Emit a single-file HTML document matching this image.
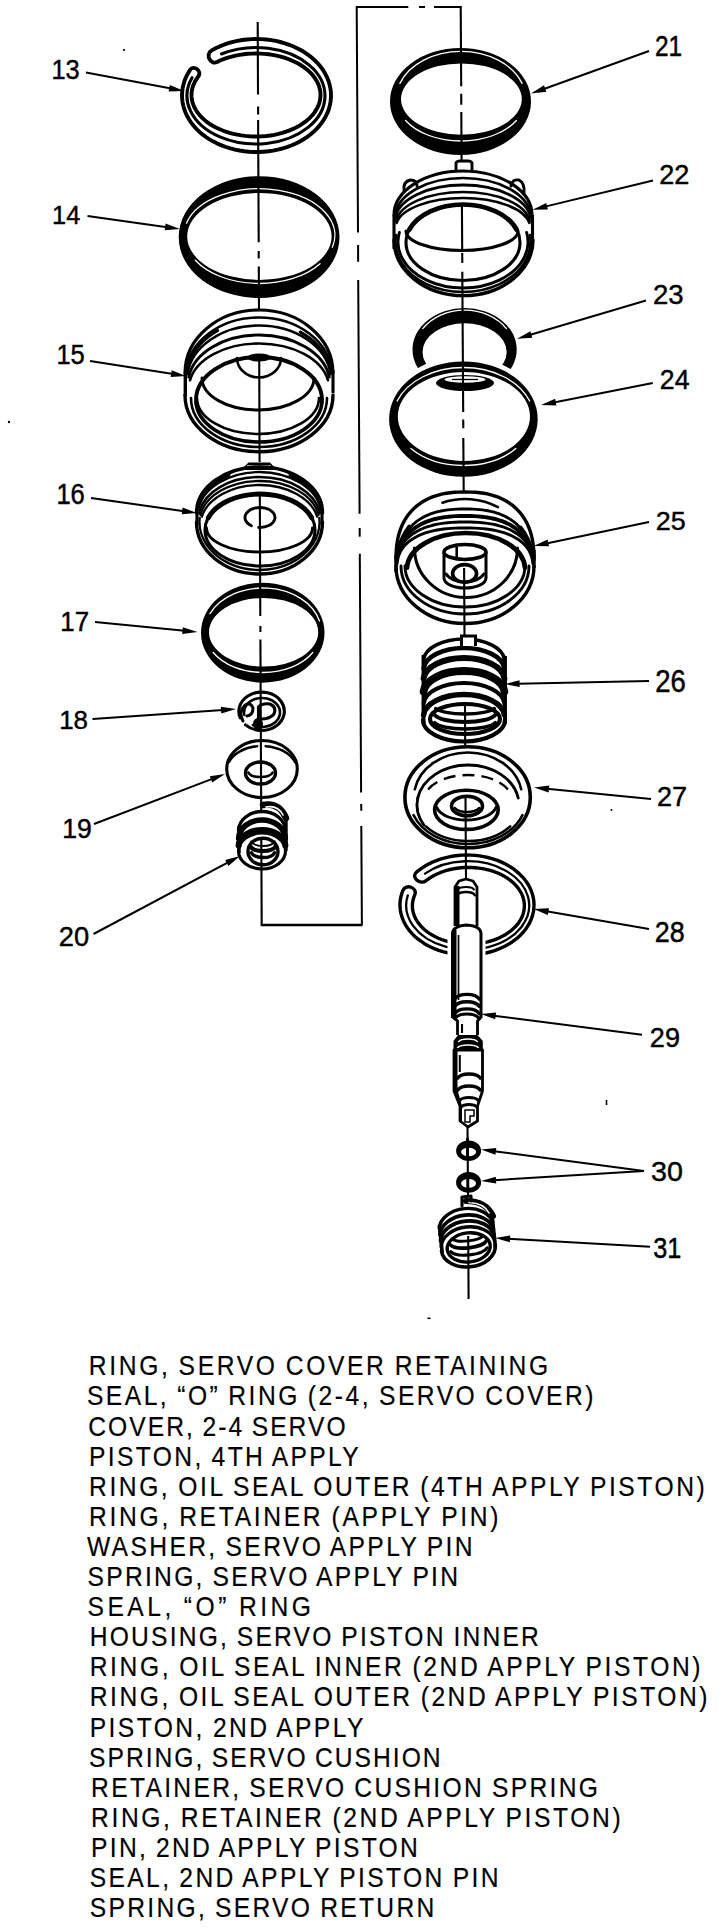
<!DOCTYPE html>
<html><head><meta charset="utf-8"><style>
html,body{margin:0;padding:0;background:#fff;}
svg{display:block;}
text{font-family:"Liberation Sans",sans-serif;fill:#000;}
</style></head><body>
<svg width="720" height="1928" viewBox="0 0 720 1928">
<rect width="720" height="1928" fill="#fff"/>
<path d="M211.7 50.4 L215.6 48.3 L219.7 46.4 L224 44.7 L228.4 43.2 L232.9 41.9 L237.6 40.9 L242.3 40 L247 39.5 L251.8 39.1 L256.6 39 L261.5 39.1 L266.3 39.5 L271 40.1 L275.7 40.9 L280.3 42 L284.9 43.3 L289.3 44.8 L293.5 46.5 L297.6 48.4 L301.6 50.5 L305.3 52.8 L308.9 55.3 L312.2 58 L315.3 60.8 L318.1 63.7 L320.7 66.8 L323 70 L325 73.3 L326.8 76.8 L328.2 80.2 L329.4 83.8 L330.2 87.4 L330.8 91 L331 94.7 L330.9 98.3 L330.5 102 L329.8 105.6 L328.8 109.2 L327.5 112.7 L325.8 116.2 L323.9 119.5 L321.7 122.8 L319.3 125.9 L316.6 128.9 L313.6 131.8 L310.4 134.5 L306.9 137.1 L303.2 139.5 L299.4 141.7 L295.4 143.7 L291.2 145.5 L286.8 147.1 L282.4 148.5 L277.8 149.6 L273.1 150.6 L268.4 151.3 L263.6 151.7 L258.8 152 L254 152 L249.1 151.7 L244.4 151.2 L239.6 150.5 L235 149.6 L230.4 148.4 L225.9 147 L221.6 145.4 L217.4 143.6 L213.4 141.6 L209.5 139.4 L205.9 137 L202.5 134.4 L199.3 131.7 L196.3 128.8 L193.6 125.8 L191.1 122.6 L189 119.3 L187.1 116 L185.5 112.5 L184.2 109 L183.2 105.4 L182.5 101.8 L182.1 98.2 L182 94.5 L182.3 90.8 L182.8 87.2 L183.7 83.6 L184.8 80.1 L186.3 76.6 L188.1 73.2 L190.1 69.8 C193.6 64.6 202 70.9 198.5 76.2 L196.8 78.6 L195.2 81.1 L194 83.7 L192.9 86.3 L192.2 88.9 L191.7 91.6 L191.5 94.3 L191.6 96.9 L191.9 99.6 L192.5 102.3 L193.4 104.9 L194.5 107.5 L195.9 110 L197.5 112.5 L199.4 114.9 L201.5 117.2 L203.9 119.4 L206.4 121.6 L209.2 123.6 L212.2 125.5 L215.4 127.2 L218.7 128.8 L222.2 130.3 L225.8 131.7 L229.5 132.8 L233.4 133.9 L237.4 134.7 L241.4 135.4 L245.5 135.9 L249.6 136.3 L253.8 136.5 L258 136.5 L262.1 136.3 L266.3 136 L270.4 135.5 L274.4 134.8 L278.4 133.9 L282.3 132.9 L286 131.7 L289.6 130.4 L293.1 128.9 L296.5 127.3 L299.6 125.6 L302.6 123.7 L305.4 121.7 L308 119.6 L310.4 117.3 L312.5 115 L314.4 112.6 L316 110.2 L317.4 107.6 L318.6 105.1 L319.5 102.4 L320.1 99.8 L320.4 97.1 L320.5 94.4 L320.3 91.7 L319.8 89 L319.1 86.4 L318.1 83.8 L316.8 81.2 L315.3 78.7 L313.6 76.3 L311.6 73.9 L309.3 71.7 L306.9 69.5 L304.2 67.4 L301.3 65.5 L298.3 63.6 L295 62 L291.6 60.4 L288.1 59 L284.4 57.7 L280.6 56.6 L276.6 55.7 L272.6 54.9 L268.6 54.3 L264.5 53.9 L260.3 53.6 L256.1 53.5 L252 53.6 L247.8 53.8 L243.7 54.3 L239.6 54.9 L235.6 55.6 L231.7 56.6 L227.9 57.7 L224.2 58.9 L220.6 60.3 L217.2 61.9 C210.5 65.6 205 54.2 211.7 50.4 Z" fill="none" stroke="#000" stroke-width="3.9" stroke-linejoin="round"/>
<path d="M293.75 46.57A74.50 56.50 0 0 1 331.00 95.50A74.50 56.50 0 0 1 293.75 144.43" fill="none" stroke="#000" stroke-width="1.8" stroke-linecap="round"/>
<path d="M221.50 53.96A69.00 48.25 0 0 1 309.24 65.06A69.00 48.25 0 0 1 308.07 127.40A69.00 48.25 0 0 1 219.95 136.89A69.00 48.25 0 0 1 192.02 77.68" fill="none" stroke="#000" stroke-width="3.1" stroke-linecap="round"/>
<path fill-rule="evenodd" fill="#000" d="M339.50 237.10A80.40 60.90 0 0 1 259.10 298.00A80.40 60.90 0 0 1 178.70 237.10A80.40 60.90 0 0 1 259.10 176.20A80.40 60.90 0 0 1 339.50 237.10Z M331.60 236.40A72.20 43.50 0 0 1 259.40 279.90A72.20 43.50 0 0 1 187.20 236.40A72.20 43.50 0 0 1 259.40 192.90A72.20 43.50 0 0 1 331.60 236.40Z"/>
<path d="M186.47 223.16A75.50 46.50 0 0 1 278.94 190.28A75.50 46.50 0 0 1 332.33 247.24" fill="none" stroke="#fff" stroke-width="1.3" stroke-linecap="round"/>
<path d="M320.02 263.67A74.00 46.50 0 0 1 256.17 283.46A74.00 46.50 0 0 1 195.31 260.25" fill="none" stroke="#fff" stroke-width="1.3" stroke-linecap="round"/>
<path d="M185.00 373.00A74.00 63.00 0 0 1 259.00 310.00A74.00 63.00 0 0 1 333.00 373.00" fill="none" stroke="#000" stroke-width="3.1" stroke-linecap="round"/>
<path d="M186.10 372.94A73.00 58.50 0 0 1 259.00 317.50A73.00 58.50 0 0 1 331.90 372.94" fill="none" stroke="#000" stroke-width="2.6" stroke-linecap="round"/>
<path d="M187.39 374.30A72.00 54.50 0 0 1 259.00 325.50A72.00 54.50 0 0 1 330.61 374.30" fill="none" stroke="#000" stroke-width="2.6" stroke-linecap="round"/>
<path d="M188.69 377.18A71.00 49.00 0 0 1 259.00 335.00A71.00 49.00 0 0 1 329.31 377.18" fill="none" stroke="#000" stroke-width="2.9" stroke-linecap="round"/>
<path d="M190.06 380.27A70.00 44.50 0 0 1 259.00 343.50A70.00 44.50 0 0 1 327.94 380.27" fill="none" stroke="#000" stroke-width="2.6" stroke-linecap="round"/>
<path d="M188.97 362.99A72.50 58.00 0 0 1 217.42 330.49" fill="none" stroke="#000" stroke-width="3.4" stroke-linecap="round"/>
<path d="M300.30 332.13A72.00 56.00 0 0 1 328.55 363.51" fill="none" stroke="#000" stroke-width="3.1" stroke-linecap="round"/>
<line x1="185.3" y1="372" x2="185.3" y2="396" stroke="#000" stroke-width="3.4" stroke-linecap="butt"/>
<line x1="333" y1="370" x2="333" y2="393" stroke="#000" stroke-width="3.1" stroke-linecap="butt"/>
<path d="M333.00 395.00A74.00 56.70 0 0 1 259.00 451.70A74.00 56.70 0 0 1 185.00 395.00" fill="none" stroke="#000" stroke-width="3.4" stroke-linecap="round"/>
<path d="M327.00 398.00A68.00 49.00 0 0 1 259.00 447.00A68.00 49.00 0 0 1 191.00 398.00" fill="none" stroke="#000" stroke-width="2.6" stroke-linecap="round"/>
<path d="M322.00 400.00A63.00 42.00 0 0 1 259.00 442.00A63.00 42.00 0 0 1 196.00 400.00" fill="none" stroke="#000" stroke-width="3.6" stroke-linecap="round"/>
<path d="M196.04 398.50A63.00 43.00 0 0 1 259.00 357.00A63.00 43.00 0 0 1 321.96 398.50" fill="none" stroke="#000" stroke-width="3.9" stroke-linecap="round"/>
<line x1="196" y1="400" x2="196" y2="405" stroke="#000" stroke-width="3.1" stroke-linecap="butt"/>
<line x1="322" y1="398" x2="322" y2="404" stroke="#000" stroke-width="3.1" stroke-linecap="butt"/>
<path d="M314.00 378.00A56.00 32.00 0 0 1 258.00 410.00A56.00 32.00 0 0 1 202.00 378.00" fill="none" stroke="#000" stroke-width="2.9" stroke-linecap="round"/>
<path d="M319.00 398.00A61.00 36.00 0 0 1 258.00 434.00A61.00 36.00 0 0 1 197.00 398.00" fill="none" stroke="#000" stroke-width="2.6" stroke-linecap="round"/>
<path d="M281.00 358.00A22.00 19.50 0 0 1 259.00 377.50A22.00 19.50 0 0 1 237.00 358.00" fill="none" stroke="#000" stroke-width="2.6" stroke-linecap="round"/>
<path d="M249.00 358.00A10.00 3.00 0 0 1 259.00 355.00A10.00 3.00 0 0 1 269.00 358.00" fill="none" stroke="#000" stroke-width="2.9" stroke-linecap="round"/>
<ellipse cx="259" cy="359" rx="10" ry="2.5" fill="#000"/>
<path d="M241 470 L248.5 462.5 L270 462.5 L277 470 Z" fill="#000"/>
<line x1="247" y1="466" x2="271" y2="466" stroke="#fff" stroke-width="1.3" stroke-linecap="butt"/>
<path d="M196.50 513.00A63.00 46.00 0 0 1 259.50 467.00A63.00 46.00 0 0 1 322.50 513.00" fill="none" stroke="#000" stroke-width="3.4" stroke-linecap="round"/>
<path d="M197.95 505.36A62.50 44.00 0 0 1 228.25 474.89" fill="none" stroke="#000" stroke-width="4.5" stroke-linecap="round"/>
<path d="M290.75 474.89A62.50 44.00 0 0 1 321.05 505.36" fill="none" stroke="#000" stroke-width="4.5" stroke-linecap="round"/>
<path d="M198.10 509.88A62.00 44.00 0 0 1 259.50 472.00A62.00 44.00 0 0 1 320.90 509.88" fill="none" stroke="#000" stroke-width="2.3" stroke-linecap="round"/>
<path d="M199.09 513.15A61.00 42.00 0 0 1 259.50 477.00A61.00 42.00 0 0 1 319.91 513.15" fill="none" stroke="#000" stroke-width="2.6" stroke-linecap="round"/>
<path d="M200.41 514.88A60.00 41.00 0 0 1 259.50 481.00A60.00 41.00 0 0 1 318.59 514.88" fill="none" stroke="#000" stroke-width="2.3" stroke-linecap="round"/>
<path d="M201.79 516.68A59.00 40.00 0 0 1 259.50 485.00A59.00 40.00 0 0 1 317.21 516.68" fill="none" stroke="#000" stroke-width="2.3" stroke-linecap="round"/>
<path d="M315.00 530.00A55.00 36.00 0 0 1 260.00 566.00A55.00 36.00 0 0 1 205.00 530.00A55.00 36.00 0 0 1 260.00 494.00A55.00 36.00 0 0 1 315.00 530.00Z" fill="none" stroke="#000" stroke-width="3.1" stroke-linecap="round"/>
<path d="M208.32 517.69A55.00 36.00 0 0 1 260.00 494.00A55.00 36.00 0 0 1 311.68 517.69" fill="none" stroke="#000" stroke-width="4.9" stroke-linecap="round"/>
<line x1="197" y1="513" x2="197" y2="525" stroke="#000" stroke-width="3.1" stroke-linecap="butt"/>
<line x1="322" y1="511" x2="322" y2="525" stroke="#000" stroke-width="3.1" stroke-linecap="butt"/>
<path d="M322.50 522.00A63.00 52.00 0 0 1 259.50 574.00A63.00 52.00 0 0 1 196.50 522.00" fill="none" stroke="#000" stroke-width="3.4" stroke-linecap="round"/>
<path d="M319.27 517.82A60.00 48.00 0 0 1 291.00 562.85A60.00 48.00 0 0 1 228.00 562.85A60.00 48.00 0 0 1 199.73 517.82" fill="none" stroke="#000" stroke-width="2.3" stroke-linecap="round"/>
<path d="M312.50 528.00A53.00 24.00 0 0 1 259.50 552.00A53.00 24.00 0 0 1 206.50 528.00" fill="none" stroke="#000" stroke-width="2.9" stroke-linecap="round"/>
<path d="M251.40 525.69A15.00 10.00 0 0 1 246.69 512.88A15.00 10.00 0 0 1 265.13 508.10A15.00 10.00 0 0 1 274.64 519.66A15.00 10.00 0 0 1 258.69 527.46" fill="none" stroke="#000" stroke-width="2.9" stroke-linecap="round"/>
<path fill-rule="evenodd" fill="#000" d="M324.50 632.65A61.75 50.00 0 0 1 262.75 682.65A61.75 50.00 0 0 1 201.00 632.65A61.75 50.00 0 0 1 262.75 582.65A61.75 50.00 0 0 1 324.50 632.65Z M318.20 632.20A54.60 34.30 0 0 1 263.60 666.50A54.60 34.30 0 0 1 209.00 632.20A54.60 34.30 0 0 1 263.60 597.90A54.60 34.30 0 0 1 318.20 632.20Z"/>
<path d="M209.98 613.69A58.50 44.50 0 0 1 268.10 588.17A58.50 44.50 0 0 1 319.51 620.98" fill="none" stroke="#fff" stroke-width="1.3" stroke-linecap="round"/>
<path d="M312.80 652.50A57.50 40.00 0 0 1 263.00 672.50A57.50 40.00 0 0 1 213.20 652.50" fill="none" stroke="#fff" stroke-width="1.3" stroke-linecap="round"/>
<path d="M240.22 717.85A22.75 19.15 0 0 1 251.54 694.12A22.75 19.15 0 0 1 280.79 701.01A22.75 19.15 0 0 1 275.84 726.23A22.75 19.15 0 0 1 245.51 724.84" fill="none" stroke="#000" stroke-width="3.1" stroke-linecap="round"/>
<path d="M244.27 715.02A18.00 14.50 0 0 1 255.11 699.10A18.00 14.50 0 0 1 276.74 704.18A18.00 14.50 0 0 1 275.27 722.30A18.00 14.50 0 0 1 253.00 725.06" fill="none" stroke="#000" stroke-width="2.6" stroke-linecap="round"/>
<path d="M243 721 Q238 712 245 705 Q251 702 253 708 Q253 715 247 716" fill="none" stroke="#000" stroke-width="3" stroke-linejoin="round" stroke-linecap="round"/>
<path d="M258.5 724 L258.5 707 Q262 703 270 704 Q277 707 274 714 Q270 719 261 719" fill="none" stroke="#000" stroke-width="3.1" stroke-linejoin="round" stroke-linecap="round"/>
<ellipse cx="258" cy="724" rx="5" ry="6" fill="#000"/>
<ellipse cx="262" cy="769" rx="35.3" ry="28.5" fill="none" stroke="#000" stroke-width="3.1"/>
<path d="M229.11 761.79A35.00 24.00 0 0 1 257.13 746.23" fill="none" stroke="#000" stroke-width="2.5" stroke-linecap="round"/>
<path d="M265.66 746.13A35.00 24.00 0 0 1 295.29 762.58" fill="none" stroke="#000" stroke-width="2.5" stroke-linecap="round"/>
<ellipse cx="260.5" cy="773" rx="15" ry="11" fill="none" stroke="#000" stroke-width="3.4"/>
<path d="M272.57 772.55A12.50 6.00 0 0 1 260.50 777.00A12.50 6.00 0 0 1 248.43 772.55" fill="none" stroke="#000" stroke-width="2.6" stroke-linecap="round"/>
<path d="M285.50 851.00A23.50 18.00 0 0 1 262.00 869.00A23.50 18.00 0 0 1 238.50 851.00A23.50 18.00 0 0 1 262.00 833.00A23.50 18.00 0 0 1 285.50 851.00Z" fill="none" stroke="#000" stroke-width="3.1" stroke-linecap="round"/>
<path d="M238.51 830.32A23.50 19.50 0 0 1 262.00 811.50A23.50 19.50 0 0 1 285.49 830.32" fill="none" stroke="#000" stroke-width="3.4" stroke-linecap="round"/>
<path d="M238.71 838.34A23.30 19.00 0 0 1 262.00 820.00A23.30 19.00 0 0 1 285.29 838.34" fill="none" stroke="#000" stroke-width="5.7" stroke-linecap="round"/>
<path d="M238.71 845.44A23.30 16.00 0 0 1 262.00 830.00A23.30 16.00 0 0 1 285.29 845.44" fill="none" stroke="#000" stroke-width="6.2" stroke-linecap="round"/>
<line x1="239" y1="826" x2="239" y2="853" stroke="#000" stroke-width="3.4" stroke-linecap="butt"/>
<line x1="286" y1="820" x2="286" y2="851" stroke="#000" stroke-width="3.4" stroke-linecap="butt"/>
<ellipse cx="263" cy="851.5" rx="15" ry="13.3" fill="none" stroke="#000" stroke-width="3.4"/>
<path d="M274.59 841.55A12.00 6.00 0 0 1 263.00 846.00A12.00 6.00 0 0 1 251.41 841.55" fill="none" stroke="#000" stroke-width="2.1" stroke-linecap="round"/>
<path d="M275.56 846.55A13.00 6.00 0 0 1 263.00 851.00A13.00 6.00 0 0 1 250.44 846.55" fill="none" stroke="#000" stroke-width="4.2" stroke-linecap="round"/>
<path d="M274.59 852.68A12.00 6.50 0 0 1 263.00 857.50A12.00 6.50 0 0 1 251.41 852.68" fill="none" stroke="#000" stroke-width="3.4" stroke-linecap="round"/>
<path d="M263 805 Q279 802 286 818" fill="none" stroke="#000" stroke-width="6.5" stroke-linecap="round"/>
<path d="M266 807 Q278 805 283 815" fill="none" stroke="#fff" stroke-width="1.6" stroke-linecap="round"/>
<path fill-rule="evenodd" fill="#000" d="M531.00 101.50A70.50 53.50 0 0 1 460.50 155.00A70.50 53.50 0 0 1 390.00 101.50A70.50 53.50 0 0 1 460.50 48.00A70.50 53.50 0 0 1 531.00 101.50Z M521.80 99.10A60.40 35.70 0 0 1 461.40 134.80A60.40 35.70 0 0 1 401.00 99.10A60.40 35.70 0 0 1 461.40 63.40A60.40 35.70 0 0 1 521.80 99.10Z"/>
<path d="M399.92 83.38A65.00 48.60 0 0 1 461.00 51.40A65.00 48.60 0 0 1 522.08 83.38" fill="none" stroke="#fff" stroke-width="1.3" stroke-linecap="round"/>
<path d="M516.43 120.50A64.00 41.00 0 0 1 461.00 141.00A64.00 41.00 0 0 1 405.57 120.50" fill="none" stroke="#fff" stroke-width="1.3" stroke-linecap="round"/>
<path d="M456 170 L456 163 Q457 161 460 161 L468 161 Q471 161 472 163 L472 170" fill="none" stroke="#000" stroke-width="2.9" stroke-linejoin="round" stroke-linecap="round"/>
<path d="M394.00 215.00A69.00 44.00 0 0 1 463.00 171.00A69.00 44.00 0 0 1 532.00 215.00" fill="none" stroke="#000" stroke-width="3.1" stroke-linecap="round"/>
<path d="M395.26 214.51A68.00 40.00 0 0 1 463.00 178.00A68.00 40.00 0 0 1 530.74 214.51" fill="none" stroke="#000" stroke-width="2.6" stroke-linecap="round"/>
<path d="M395.26 217.86A68.00 36.00 0 0 1 463.00 185.00A68.00 36.00 0 0 1 530.74 217.86" fill="none" stroke="#000" stroke-width="2.9" stroke-linecap="round"/>
<path d="M396.25 221.21A67.00 32.00 0 0 1 463.00 192.00A67.00 32.00 0 0 1 529.75 221.21" fill="none" stroke="#000" stroke-width="2.6" stroke-linecap="round"/>
<path d="M396.65 222.96A67.00 29.00 0 0 1 463.00 198.00A67.00 29.00 0 0 1 529.35 222.96" fill="none" stroke="#000" stroke-width="2.6" stroke-linecap="round"/>
<path d="M404 190 Q403 182 410 180 Q417 180 417 186" fill="none" stroke="#000" stroke-width="2.9" stroke-linejoin="round" stroke-linecap="round"/>
<path d="M511 186 Q512 179 519 180 Q525 183 524 193" fill="none" stroke="#000" stroke-width="2.9" stroke-linejoin="round" stroke-linecap="round"/>
<line x1="394" y1="215" x2="394" y2="249" stroke="#000" stroke-width="3.1" stroke-linecap="butt"/>
<line x1="532.5" y1="215" x2="532.5" y2="240" stroke="#000" stroke-width="3.1" stroke-linecap="butt"/>
<path d="M533.00 240.00A69.50 55.60 0 0 1 463.50 295.60A69.50 55.60 0 0 1 394.00 240.00" fill="none" stroke="#000" stroke-width="3.4" stroke-linecap="round"/>
<path d="M529.84 235.04A67.50 50.00 0 0 1 499.43 284.09A67.50 50.00 0 0 1 426.57 284.09A67.50 50.00 0 0 1 396.16 235.04" fill="none" stroke="#000" stroke-width="2.6" stroke-linecap="round"/>
<path d="M526.58 232.44A65.00 46.00 0 0 1 499.35 280.14A65.00 46.00 0 0 1 426.65 280.14A65.00 46.00 0 0 1 399.42 232.44" fill="none" stroke="#000" stroke-width="2.9" stroke-linecap="round"/>
<path d="M520.00 242.50A57.00 38.00 0 0 1 463.00 280.50A57.00 38.00 0 0 1 406.00 242.50A57.00 38.00 0 0 1 463.00 204.50A57.00 38.00 0 0 1 520.00 242.50Z" fill="none" stroke="#000" stroke-width="3.1" stroke-linecap="round"/>
<path d="M409.44 229.50A57.00 38.00 0 0 1 463.00 204.50A57.00 38.00 0 0 1 516.56 229.50" fill="none" stroke="#000" stroke-width="4.7" stroke-linecap="round"/>
<path d="M518.00 231.00A56.00 19.50 0 0 1 462.00 250.50A56.00 19.50 0 0 1 406.00 231.00" fill="none" stroke="#000" stroke-width="3.1" stroke-linecap="round"/>
<path fill-rule="evenodd" fill="#000" d="M516.70 349.50A52.10 41.50 0 0 1 464.60 391.00A52.10 41.50 0 0 1 412.50 349.50A52.10 41.50 0 0 1 464.60 308.00A52.10 41.50 0 0 1 516.70 349.50Z M506.70 352.00A42.10 28.70 0 0 1 464.60 380.70A42.10 28.70 0 0 1 422.50 352.00A42.10 28.70 0 0 1 464.60 323.30A42.10 28.70 0 0 1 506.70 352.00Z"/>
<path d="M422.79 328.67A49.30 39.30 0 0 1 464.60 310.20A49.30 39.30 0 0 1 506.41 328.67" fill="none" stroke="#fff" stroke-width="1.3" stroke-linecap="round"/>
<ellipse cx="463.4" cy="419.1" rx="79" ry="62.5" fill="#fff"/>
<path fill-rule="evenodd" fill="#000" d="M537.70 419.10A74.30 57.70 0 0 1 463.40 476.80A74.30 57.70 0 0 1 389.10 419.10A74.30 57.70 0 0 1 463.40 361.40A74.30 57.70 0 0 1 537.70 419.10Z M530.00 416.50A66.10 44.50 0 0 1 463.90 461.00A66.10 44.50 0 0 1 397.80 416.50A66.10 44.50 0 0 1 463.90 372.00A66.10 44.50 0 0 1 530.00 416.50Z"/>
<path d="M397.15 401.06A70.50 51.00 0 0 1 463.40 367.50A70.50 51.00 0 0 1 529.65 401.06" fill="none" stroke="#fff" stroke-width="1.3" stroke-linecap="round"/>
<path d="M515.87 448.53A68.50 47.50 0 0 1 463.40 465.50A68.50 47.50 0 0 1 410.93 448.53" fill="none" stroke="#fff" stroke-width="1.3" stroke-linecap="round"/>
<ellipse cx="465" cy="383" rx="29" ry="8" fill="#000"/>
<ellipse cx="465" cy="379.5" rx="20.5" ry="3.3" fill="#fff"/>
<line x1="452" y1="379.5" x2="478" y2="379.5" stroke="#000" stroke-width="1.3" stroke-linecap="butt"/>
<path d="M396.00 560.00 L396.08 554.18 L396.32 549.64 L396.71 545.51 L397.26 541.63 L397.96 537.95 L398.83 534.44 L399.84 531.09 L401.01 527.87 L402.33 524.79 L403.79 521.84 L405.41 519.02 L407.17 516.33 L409.08 513.77 L411.12 511.35 L413.31 509.06 L415.63 506.90 L418.09 504.89 L420.69 503.01 L423.41 501.27 L426.28 499.68 L429.27 498.23 L432.40 496.94 L435.66 495.79 L439.07 494.78 L442.63 493.94 L446.36 493.24 L450.30 492.70 L454.49 492.31 L459.10 492.08 L465.00 492.00 L470.90 492.08 L475.51 492.31 L479.70 492.70 L483.64 493.24 L487.37 493.94 L490.93 494.78 L494.34 495.79 L497.60 496.94 L500.73 498.23 L503.72 499.68 L506.59 501.27 L509.31 503.01 L511.91 504.89 L514.37 506.90 L516.69 509.06 L518.88 511.35 L520.92 513.77 L522.83 516.33 L524.59 519.02 L526.21 521.84 L527.67 524.79 L528.99 527.87 L530.16 531.09 L531.17 534.44 L532.04 537.95 L532.74 541.63 L533.29 545.51 L533.68 549.64 L533.92 554.18 L534.00 560.00" fill="none" stroke="#000" stroke-width="3.4" stroke-linecap="round" stroke-linejoin="round"/>
<path d="M442.43 502.68A66.00 61.00 0 0 1 498.00 507.17" fill="none" stroke="#000" stroke-width="2.6" stroke-linecap="round"/>
<path d="M402.33 540.32 L403.15 538.34 L404.06 536.41 L405.05 534.55 L406.13 532.76 L407.30 531.02 L408.55 529.35 L409.88 527.74 L411.30 526.19 L412.80 524.70 L414.38 523.27 L416.04 521.91 L417.78 520.62 L419.60 519.38 L421.49 518.22 L423.47 517.12 L425.52 516.08 L427.65 515.12 L429.85 514.22 L432.14 513.40 L434.50 512.64 L436.94 511.95 L439.46 511.33 L442.07 510.79 L444.77 510.32 L447.58 509.91 L450.51 509.59 L453.58 509.33 L456.84 509.15 L460.42 509.04 L465.00 509.00 L469.58 509.04 L473.16 509.15 L476.42 509.33 L479.49 509.59 L482.42 509.91 L485.23 510.32 L487.93 510.79 L490.54 511.33 L493.06 511.95 L495.50 512.64 L497.86 513.40 L500.15 514.22 L502.35 515.12 L504.48 516.08 L506.53 517.12 L508.51 518.22 L510.40 519.38 L512.22 520.62 L513.96 521.91 L515.62 523.27 L517.20 524.70 L518.70 526.19 L520.12 527.74 L521.45 529.35 L522.70 531.02 L523.87 532.76 L524.95 534.55 L525.94 536.41 L526.85 538.34 L527.67 540.32" fill="none" stroke="#000" stroke-width="2.9" stroke-linecap="round" stroke-linejoin="round"/>
<path d="M398.85 552.84 L399.36 550.45 L399.99 548.16 L400.74 545.96 L401.61 543.85 L402.60 541.81 L403.70 539.86 L404.92 537.97 L406.25 536.17 L407.69 534.43 L409.25 532.76 L410.91 531.17 L412.68 529.66 L414.56 528.22 L416.55 526.85 L418.64 525.56 L420.84 524.35 L423.13 523.21 L425.53 522.16 L428.03 521.19 L430.63 520.29 L433.34 519.48 L436.15 518.76 L439.07 518.11 L442.11 517.55 L445.27 517.08 L448.57 516.69 L452.05 516.39 L455.75 516.17 L459.80 516.04 L465.00 516.00 L470.20 516.04 L474.25 516.17 L477.95 516.39 L481.43 516.69 L484.73 517.08 L487.89 517.55 L490.93 518.11 L493.85 518.76 L496.66 519.48 L499.37 520.29 L501.97 521.19 L504.47 522.16 L506.87 523.21 L509.16 524.35 L511.36 525.56 L513.45 526.85 L515.44 528.22 L517.32 529.66 L519.09 531.17 L520.75 532.76 L522.31 534.43 L523.75 536.17 L525.08 537.97 L526.30 539.86 L527.40 541.81 L528.39 543.85 L529.26 545.96 L530.01 548.16 L530.64 550.45 L531.15 552.84" fill="none" stroke="#000" stroke-width="3.9" stroke-linecap="round" stroke-linejoin="round"/>
<path d="M397.31 559.30 L397.67 556.80 L398.16 554.44 L398.79 552.20 L399.54 550.06 L400.44 548.00 L401.46 546.03 L402.61 544.13 L403.89 542.31 L405.30 540.57 L406.84 538.89 L408.50 537.29 L410.28 535.77 L412.18 534.32 L414.21 532.94 L416.35 531.64 L418.61 530.42 L420.98 529.28 L423.47 528.22 L426.07 527.24 L428.79 526.34 L431.62 525.52 L434.57 524.78 L437.63 524.14 L440.83 523.57 L444.16 523.09 L447.64 522.70 L451.31 522.39 L455.22 522.18 L459.51 522.04 L465.00 522.00 L470.49 522.04 L474.78 522.18 L478.69 522.39 L482.36 522.70 L485.84 523.09 L489.17 523.57 L492.37 524.14 L495.43 524.78 L498.38 525.52 L501.21 526.34 L503.93 527.24 L506.53 528.22 L509.02 529.28 L511.39 530.42 L513.65 531.64 L515.79 532.94 L517.82 534.32 L519.72 535.77 L521.50 537.29 L523.16 538.89 L524.70 540.57 L526.11 542.31 L527.39 544.13 L528.54 546.03 L529.56 548.00 L530.46 550.06 L531.21 552.20 L531.84 554.44 L532.33 556.80 L532.69 559.30" fill="none" stroke="#000" stroke-width="2.9" stroke-linecap="round" stroke-linejoin="round"/>
<path d="M397.14 563.65 L397.41 561.19 L397.82 558.91 L398.37 556.75 L399.06 554.70 L399.89 552.74 L400.86 550.86 L401.96 549.06 L403.20 547.33 L404.58 545.66 L406.09 544.07 L407.73 542.55 L409.50 541.10 L411.40 539.72 L413.42 538.41 L415.57 537.18 L417.84 536.02 L420.23 534.93 L422.75 533.92 L425.38 532.99 L428.13 532.13 L431.00 531.35 L434.00 530.65 L437.11 530.03 L440.36 529.50 L443.76 529.04 L447.30 528.67 L451.04 528.38 L455.03 528.17 L459.40 528.04 L465.00 528.00 L470.60 528.04 L474.97 528.17 L478.96 528.38 L482.70 528.67 L486.24 529.04 L489.64 529.50 L492.89 530.03 L496.00 530.65 L499.00 531.35 L501.87 532.13 L504.62 532.99 L507.25 533.92 L509.77 534.93 L512.16 536.02 L514.43 537.18 L516.58 538.41 L518.60 539.72 L520.50 541.10 L522.27 542.55 L523.91 544.07 L525.42 545.66 L526.80 547.33 L528.04 549.06 L529.14 550.86 L530.11 552.74 L530.94 554.70 L531.63 556.75 L532.18 558.91 L532.59 561.19 L532.86 563.65" fill="none" stroke="#000" stroke-width="2.9" stroke-linecap="round" stroke-linejoin="round"/>
<path d="M407.04 567.74A59.00 36.00 0 0 1 466.00 533.00A59.00 36.00 0 0 1 524.96 567.74" fill="none" stroke="#000" stroke-width="4.7" stroke-linecap="round"/>
<path d="M398.03 551.23A68.00 62.00 0 0 1 409.30 526.44" fill="none" stroke="#000" stroke-width="3.9" stroke-linecap="round"/>
<path d="M520.70 527.59A68.00 60.00 0 0 1 531.97 551.58" fill="none" stroke="#000" stroke-width="3.9" stroke-linecap="round"/>
<line x1="396" y1="555" x2="396" y2="572" stroke="#000" stroke-width="3.4" stroke-linecap="butt"/>
<line x1="534" y1="550" x2="534" y2="568" stroke="#000" stroke-width="3.4" stroke-linecap="butt"/>
<path d="M534.00 566.00A69.00 57.50 0 0 1 465.00 623.50A69.00 57.50 0 0 1 396.00 566.00" fill="none" stroke="#000" stroke-width="3.4" stroke-linecap="round"/>
<path d="M529.00 566.00A64.00 48.00 0 0 1 465.00 614.00A64.00 48.00 0 0 1 401.00 566.00" fill="none" stroke="#000" stroke-width="2.9" stroke-linecap="round"/>
<path d="M525.00 566.00A60.00 41.00 0 0 1 465.00 607.00A60.00 41.00 0 0 1 405.00 566.00" fill="none" stroke="#000" stroke-width="2.9" stroke-linecap="round"/>
<path d="M517.50 548.00A51.50 49.50 0 0 1 466.00 597.50A51.50 49.50 0 0 1 414.50 548.00" fill="none" stroke="#000" stroke-width="3.1" stroke-linecap="round"/>
<path d="M444 552 L444 578 A21 10 0 0 0 486 578 L486 552" fill="#fff" stroke="#000" stroke-width="3"/>
<ellipse cx="465" cy="552" rx="21" ry="7.5" fill="#fff" stroke="#000" stroke-width="3.6"/>
<path d="M483.79 574.10A20.00 12.00 0 0 1 465.00 582.00A20.00 12.00 0 0 1 446.21 574.10" fill="none" stroke="#000" stroke-width="2.9" stroke-linecap="round"/>
<ellipse cx="464.6" cy="573.5" rx="12" ry="8.9" fill="none" stroke="#000" stroke-width="3.6"/>
<line x1="456.7" y1="547" x2="456.7" y2="559" stroke="#000" stroke-width="2.6" stroke-linecap="butt"/>
<path d="M423.60 659.47A40.50 22.00 0 0 1 464.00 639.00A40.50 22.00 0 0 1 504.40 659.47" fill="none" stroke="#000" stroke-width="3.6" stroke-linecap="round"/>
<path d="M423.60 668.47A40.50 22.00 0 0 1 464.00 648.00A40.50 22.00 0 0 1 504.40 668.47" fill="none" stroke="#000" stroke-width="4.7" stroke-linecap="round"/>
<path d="M423.60 678.47A40.50 22.00 0 0 1 464.00 658.00A40.50 22.00 0 0 1 504.40 678.47" fill="none" stroke="#000" stroke-width="6" stroke-linecap="round"/>
<path d="M423.60 691.47A40.50 22.00 0 0 1 464.00 671.00A40.50 22.00 0 0 1 504.40 691.47" fill="none" stroke="#000" stroke-width="7.8" stroke-linecap="round"/>
<path d="M423.60 703.47A40.50 22.00 0 0 1 464.00 683.00A40.50 22.00 0 0 1 504.40 703.47" fill="none" stroke="#000" stroke-width="4.2" stroke-linecap="round"/>
<path d="M423.60 714.97A40.50 22.00 0 0 1 464.00 694.50A40.50 22.00 0 0 1 504.40 714.97" fill="none" stroke="#000" stroke-width="5.5" stroke-linecap="round"/>
<line x1="423.5" y1="655" x2="423.5" y2="724" stroke="#000" stroke-width="3.9" stroke-linecap="butt"/>
<line x1="505" y1="656" x2="505" y2="724" stroke="#000" stroke-width="3.9" stroke-linecap="butt"/>
<path d="M505.00 720.00A41.00 21.50 0 0 1 464.00 741.50A41.00 21.50 0 0 1 423.00 720.00" fill="none" stroke="#000" stroke-width="4.2" stroke-linecap="round"/>
<ellipse cx="465" cy="719" rx="35" ry="15" fill="none" stroke="#000" stroke-width="4.2"/>
<path d="M494.34 708.46A30.00 7.00 0 0 1 465.00 714.00A30.00 7.00 0 0 1 435.66 708.46" fill="none" stroke="#000" stroke-width="3.4" stroke-linecap="round"/>
<path d="M495.32 714.87A31.00 9.00 0 0 1 465.00 722.00A31.00 9.00 0 0 1 434.68 714.87" fill="none" stroke="#000" stroke-width="3.9" stroke-linecap="round"/>
<path d="M495.32 722.66A31.00 8.00 0 0 1 465.00 729.00A31.00 8.00 0 0 1 434.68 722.66" fill="none" stroke="#000" stroke-width="3.4" stroke-linecap="round"/>
<path d="M461.5 646 L461.5 636 L475.5 636 L475.5 646" fill="#fff" stroke="#000" stroke-width="3"/>
<ellipse cx="467.6" cy="797.3" rx="62.7" ry="50.5" fill="none" stroke="#000" stroke-width="3.6"/>
<path d="M414.82 789.27A54.00 44.50 0 0 1 468.00 752.50A54.00 44.50 0 0 1 521.18 789.27" fill="none" stroke="#000" stroke-width="2.6" stroke-linecap="round"/>
<path d="M417.77 798.05A51.00 40.00 0 0 1 468.00 765.00A51.00 40.00 0 0 1 518.23 798.05" fill="none" stroke="#000" stroke-width="2.9" stroke-linecap="round"/>
<path d="M423.83 825.00A51.00 40.00 0 0 1 417.77 798.05" fill="none" stroke="#000" stroke-width="2.9" stroke-linecap="round"/>
<path d="M428.12 789.43A44.00 25.00 0 0 1 468.00 775.00A44.00 25.00 0 0 1 507.88 789.43" fill="none" stroke="#000" stroke-width="2.4" stroke-dasharray="12 7"/>
<path d="M522.50 815.05A58.00 44.00 0 0 1 468.00 844.00A58.00 44.00 0 0 1 413.50 815.05" fill="none" stroke="#000" stroke-width="2.6" stroke-linecap="round"/>
<path d="M510.13 826.35A55.00 41.00 0 0 1 468.00 841.00A55.00 41.00 0 0 1 425.87 826.35" fill="none" stroke="#000" stroke-width="2.6" stroke-linecap="round"/>
<ellipse cx="466.4" cy="809.8" rx="31.8" ry="19.6" fill="none" stroke="#000" stroke-width="3.6"/>
<path d="M495.94 807.60A30.00 15.00 0 0 1 466.40 820.00A30.00 15.00 0 0 1 436.86 807.60" fill="none" stroke="#000" stroke-width="2.9" stroke-linecap="round"/>
<ellipse cx="467" cy="806" rx="15.5" ry="9.7" fill="none" stroke="#000" stroke-width="3.6"/>
<path d="M479.22 808.05A13.00 6.00 0 0 1 467.00 812.00A13.00 6.00 0 0 1 454.78 808.05" fill="none" stroke="#000" stroke-width="2.6" stroke-linecap="round"/>
<path d="M416.4 872.2 L419.4 869.8 L422.6 867.6 L425.9 865.5 L429.5 863.6 L433.2 861.8 L437 860.3 L441 858.9 L445 857.8 L449.2 856.8 L453.5 856 L457.8 855.5 L462.1 855.1 L466.5 855 L470.8 855.1 L475.2 855.4 L479.5 855.9 L483.7 856.6 L487.9 857.5 L492 858.6 L496 859.9 L499.9 861.4 L503.6 863.1 L507.2 865 L510.6 867 L513.8 869.2 L516.8 871.6 L519.7 874.1 L522.2 876.7 L524.6 879.4 L526.7 882.3 L528.6 885.2 L530.1 888.3 L531.5 891.4 L532.5 894.5 L533.3 897.8 L533.8 901 L534 904.2 L533.9 907.5 L533.6 910.7 L532.9 914 L532 917.2 L530.8 920.3 L529.3 923.4 L527.6 926.3 L525.6 929.2 L523.4 932 L520.9 934.7 L518.2 937.3 L515.2 939.7 L512.1 942 L508.8 944.1 L505.3 946 L501.6 947.8 L497.8 949.4 L493.9 950.8 L489.8 952 L485.7 953 L481.5 953.8 L477.2 954.4 L472.8 954.8 L468.5 955 L464.1 955 L459.8 954.7 L455.4 954.3 L451.2 953.6 L447 952.7 L442.8 951.6 L438.8 950.4 L434.9 948.9 L431.2 947.2 L427.6 945.4 L424.1 943.4 L420.9 941.2 L417.8 938.9 L414.9 936.5 L412.3 933.9 L409.9 931.1 L407.7 928.3 L405.8 925.4 L404.2 922.4 L402.8 919.3 L401.7 916.1 L400.8 912.9 L400.3 909.7 L400 906.5 L400 903.2 L400.3 899.9 L400.9 896.7 L401.8 893.5 L402.9 890.4 C405.8 883.4 417.7 887.6 414.8 894.6 L413.9 897 L413.2 899.4 L412.7 901.9 L412.4 904.4 L412.4 906.9 L412.6 909.4 L413.1 911.9 L413.8 914.4 L414.7 916.8 L415.9 919.1 L417.3 921.5 L418.9 923.7 L420.7 925.9 L422.7 928 L424.9 930 L427.3 931.9 L429.8 933.6 L432.6 935.3 L435.4 936.8 L438.4 938.2 L441.6 939.5 L444.9 940.6 L448.2 941.6 L451.7 942.4 L455.2 943.1 L458.7 943.6 L462.4 944 L466 944.2 L469.6 944.2 L473.3 944.1 L476.9 943.8 L480.5 943.3 L484 942.7 L487.5 941.9 L490.9 941 L494.2 939.9 L497.4 938.7 L500.4 937.3 L503.3 935.8 L506.1 934.2 L508.7 932.4 L511.2 930.6 L513.4 928.6 L515.5 926.6 L517.4 924.4 L519 922.2 L520.5 919.9 L521.7 917.5 L522.7 915.1 L523.5 912.7 L524 910.2 L524.3 907.7 L524.4 905.2 L524.2 902.7 L523.8 900.2 L523.2 897.8 L522.3 895.3 L521.2 893 L519.8 890.6 L518.3 888.4 L516.5 886.2 L514.6 884.1 L512.4 882.1 L510.1 880.1 L507.5 878.3 L504.8 876.6 L502 875.1 L499 873.6 L495.9 872.3 L492.7 871.2 L489.3 870.2 L485.9 869.3 L482.4 868.6 L478.8 868.1 L475.2 867.7 L471.6 867.5 L467.9 867.4 L464.3 867.5 L460.7 867.8 L457.1 868.2 L453.5 868.8 L450 869.5 L446.6 870.4 L443.3 871.5 L440.1 872.7 L437 874 L434.1 875.5 L431.3 877.1 L428.6 878.8 L426.1 880.6 C420.3 885.6 410.6 877.2 416.4 872.2 Z" fill="none" stroke="#000" stroke-width="3.4" stroke-linejoin="round"/>
<path d="M424.98 873.61A61.50 44.20 0 0 1 505.35 870.45A61.50 44.20 0 0 1 521.23 927.17A61.50 44.20 0 0 1 445.41 946.59A61.50 44.20 0 0 1 407.78 895.46" fill="none" stroke="#000" stroke-width="2.3" stroke-linecap="round"/>
<path d="M453 926 L453 886 L458 880 L474 880 L479 886 L479 926 L483 932 L483 1017 L480 1020 L480 1034 L485 1040 L485 1090 L480 1108 L480 1124 L468 1130 L457 1124 L457 1108 L451 1090 L451 1040 L455 1034 L455 1020 L450 1017 L450 932 Z" fill="#fff" stroke="#fff" stroke-width="5"/>
<path d="M455 926 L455 887 L459 881 L466 879 L473 881 L477 887 L477 926" fill="#fff" stroke="#000" stroke-width="2.8" stroke-linejoin="round"/>
<rect x="455" y="886" width="4.5" height="40" fill="#000"/>
<path d="M457.14 895.31A9.00 4.00 0 0 1 466.00 892.00A9.00 4.00 0 0 1 474.86 895.31" fill="none" stroke="#000" stroke-width="2.3" stroke-linecap="round"/>
<path d="M458.12 889.48A8.00 3.00 0 0 1 466.00 887.00A8.00 3.00 0 0 1 473.88 889.48" fill="none" stroke="#000" stroke-width="2.1" stroke-linecap="round"/>
<path d="M452.5 1018 L452.5 934 Q452.5 926 466.5 925 Q481 926 481 934 L481 1018" fill="#fff" stroke="#000" stroke-width="3"/>
<rect x="452.5" y="930" width="4" height="88" fill="#000"/>
<line x1="458.5" y1="935" x2="458.5" y2="1000" stroke="#000" stroke-width="1.7" stroke-linecap="butt"/>
<path d="M454.78 999.01A13.00 7.00 0 0 1 467.00 994.40A13.00 7.00 0 0 1 479.22 999.01" fill="none" stroke="#000" stroke-width="3.4" stroke-linecap="round"/>
<path d="M454.78 1006.31A13.00 7.00 0 0 1 467.00 1001.70A13.00 7.00 0 0 1 479.22 1006.31" fill="none" stroke="#000" stroke-width="3.4" stroke-linecap="round"/>
<path d="M454.78 1013.51A13.00 7.00 0 0 1 467.00 1008.90A13.00 7.00 0 0 1 479.22 1013.51" fill="none" stroke="#000" stroke-width="3.4" stroke-linecap="round"/>
<path d="M454.78 1018.61A13.00 7.00 0 0 1 467.00 1014.00A13.00 7.00 0 0 1 479.22 1018.61" fill="none" stroke="#000" stroke-width="3.1" stroke-linecap="round"/>
<path d="M452.5 1017 L457.5 1021 L457.5 1035 M481 1017 L477.5 1021 L477.5 1035" fill="none" stroke="#000" stroke-width="2.8"/>
<line x1="462" y1="1024" x2="462" y2="1033" stroke="#000" stroke-width="2.1" stroke-linecap="butt"/>
<path d="M453.5 1050 L453.5 1041 L458 1035 L477.5 1035 L482.8 1041 L482.8 1050 Z" fill="#000"/>
<path d="M458.60 1041.63A10.00 4.00 0 0 1 468.00 1039.00A10.00 4.00 0 0 1 477.40 1041.63" fill="none" stroke="#fff" stroke-width="1.4" stroke-linecap="round"/>
<path d="M457.66 1047.63A11.00 4.00 0 0 1 468.00 1045.00A11.00 4.00 0 0 1 478.34 1047.63" fill="none" stroke="#fff" stroke-width="1.4" stroke-linecap="round"/>
<path d="M454 1050 L482.5 1050 L482.5 1091 L477.5 1106 L477.5 1121 L468 1127 L460 1121 L460 1106 L454 1091 Z" fill="#fff" stroke="#000" stroke-width="2.8" stroke-linejoin="round"/>
<path d="M454 1050 L457.5 1050 L457.5 1090 L462 1106 L462 1121 L460 1121 L460 1106 L454 1091 Z" fill="#000"/>
<line x1="459.8" y1="1055" x2="459.8" y2="1072" stroke="#000" stroke-width="2" stroke-linecap="butt"/>
<path d="M457.72 1077.95A12.00 6.00 0 0 1 469.00 1074.00A12.00 6.00 0 0 1 480.28 1077.95" fill="none" stroke="#000" stroke-width="3.6" stroke-linecap="round"/>
<path d="M457.72 1089.95A12.00 6.00 0 0 1 469.00 1086.00A12.00 6.00 0 0 1 480.28 1089.95" fill="none" stroke="#000" stroke-width="3.6" stroke-linecap="round"/>
<path d="M459.60 1100.46A10.00 4.50 0 0 1 469.00 1097.50A10.00 4.50 0 0 1 478.40 1100.46" fill="none" stroke="#000" stroke-width="3.1" stroke-linecap="round"/>
<path d="M461.48 1106.80A8.00 3.50 0 0 1 469.00 1104.50A8.00 3.50 0 0 1 476.52 1106.80" fill="none" stroke="#000" stroke-width="2.9" stroke-linecap="round"/>
<path d="M465 1110 L474 1110 L474 1116 L470 1116 L470 1122 L465 1122 Z" fill="#fff" stroke="#000" stroke-width="1.5"/>
<path fill-rule="evenodd" fill="#000" d="M481.10 1150.80A12.50 10.30 0 0 1 468.60 1161.10A12.50 10.30 0 0 1 456.10 1150.80A12.50 10.30 0 0 1 468.60 1140.50A12.50 10.30 0 0 1 481.10 1150.80Z M476.10 1152.00A7.50 4.20 0 0 1 468.60 1156.20A7.50 4.20 0 0 1 461.10 1152.00A7.50 4.20 0 0 1 468.60 1147.80A7.50 4.20 0 0 1 476.10 1152.00Z"/>
<path fill-rule="evenodd" fill="#000" d="M481.10 1182.40A12.50 10.40 0 0 1 468.60 1192.80A12.50 10.40 0 0 1 456.10 1182.40A12.50 10.40 0 0 1 468.60 1172.00A12.50 10.40 0 0 1 481.10 1182.40Z M476.10 1183.30A7.50 4.40 0 0 1 468.60 1187.70A7.50 4.40 0 0 1 461.10 1183.30A7.50 4.40 0 0 1 468.60 1178.90A7.50 4.40 0 0 1 476.10 1183.30Z"/>
<line x1="467.5" y1="1138" x2="467.5" y2="1158" stroke="#000" stroke-width="2.9" stroke-linecap="butt"/>
<line x1="467.8" y1="1178" x2="467.8" y2="1190" stroke="#000" stroke-width="2.9" stroke-linecap="butt"/>
<g transform="rotate(-6 467 1235)">
<path d="M440.15 1225.51A27.00 19.00 0 0 1 467.00 1208.50A27.00 19.00 0 0 1 493.85 1225.51" fill="none" stroke="#000" stroke-width="3.4" stroke-linecap="round"/>
<path d="M440.15 1232.01A27.00 19.00 0 0 1 467.00 1215.00A27.00 19.00 0 0 1 493.85 1232.01" fill="none" stroke="#000" stroke-width="3.6" stroke-linecap="round"/>
<path d="M440.15 1238.01A27.00 19.00 0 0 1 467.00 1221.00A27.00 19.00 0 0 1 493.85 1238.01" fill="none" stroke="#000" stroke-width="3.9" stroke-linecap="round"/>
<path d="M440.15 1244.01A27.00 19.00 0 0 1 467.00 1227.00A27.00 19.00 0 0 1 493.85 1244.01" fill="none" stroke="#000" stroke-width="3.4" stroke-linecap="round"/>
<path d="M494.00 1248.00A27.00 19.00 0 0 1 467.00 1267.00A27.00 19.00 0 0 1 440.00 1248.00" fill="none" stroke="#000" stroke-width="3.6" stroke-linecap="round"/>
<ellipse cx="467.4" cy="1247.5" rx="21.6" ry="14.6" fill="none" stroke="#000" stroke-width="3.4"/>
<path d="M482.85 1237.29A16.00 5.00 0 0 1 467.40 1241.00A16.00 5.00 0 0 1 451.95 1237.29" fill="none" stroke="#000" stroke-width="2.9" stroke-linecap="round"/>
<path d="M485.75 1242.81A19.00 7.00 0 0 1 467.40 1248.00A19.00 7.00 0 0 1 449.05 1242.81" fill="none" stroke="#000" stroke-width="3.6" stroke-linecap="round"/>
<path d="M485.75 1249.81A19.00 7.00 0 0 1 467.40 1255.00A19.00 7.00 0 0 1 449.05 1249.81" fill="none" stroke="#000" stroke-width="3.1" stroke-linecap="round"/>
<line x1="440.5" y1="1222" x2="440.5" y2="1250" stroke="#000" stroke-width="3.6" stroke-linecap="butt"/>
<line x1="494" y1="1222" x2="494" y2="1250" stroke="#000" stroke-width="3.6" stroke-linecap="butt"/>
</g>
<path d="M466 1201 Q486 1201 493 1216" fill="none" stroke="#000" stroke-width="6" stroke-linecap="round"/>
<path d="M469 1202.5 Q484 1203 489 1213" fill="none" stroke="#fff" stroke-width="1.6" stroke-linecap="round"/>
<path d="M462 1206 L462 1197 L471 1196 L471 1201" fill="none" stroke="#000" stroke-width="3.1" stroke-linejoin="round" stroke-linecap="round"/>
<line x1="257.7" y1="22" x2="258" y2="94.4" stroke="#000" stroke-width="2.1" stroke-linecap="butt"/>
<line x1="258.1" y1="106.5" x2="258.1" y2="114.5" stroke="#000" stroke-width="2.1" stroke-linecap="butt"/>
<line x1="258.1" y1="120" x2="258.7" y2="242.3" stroke="#000" stroke-width="2.1" stroke-linecap="butt"/>
<line x1="258.7" y1="251" x2="258.7" y2="258.4" stroke="#000" stroke-width="2.1" stroke-linecap="butt"/>
<line x1="258.8" y1="266.4" x2="259" y2="311" stroke="#000" stroke-width="2.1" stroke-linecap="butt"/>
<line x1="259.2" y1="356" x2="259.6" y2="462" stroke="#000" stroke-width="2.1" stroke-linecap="butt"/>
<line x1="259.8" y1="493" x2="260.3" y2="616" stroke="#000" stroke-width="2.1" stroke-linecap="butt"/>
<line x1="260.4" y1="626" x2="260.4" y2="632" stroke="#000" stroke-width="2.1" stroke-linecap="butt"/>
<line x1="260.4" y1="639.4" x2="261.2" y2="810" stroke="#000" stroke-width="2.1" stroke-linecap="butt"/>
<line x1="261.3" y1="838" x2="261.7" y2="925" stroke="#000" stroke-width="2.1" stroke-linecap="butt"/>
<line x1="260.7" y1="925" x2="362" y2="925" stroke="#000" stroke-width="2.3" stroke-linecap="butt"/>
<line x1="356.7" y1="6.5" x2="358" y2="232.5" stroke="#000" stroke-width="2" stroke-linecap="butt"/>
<line x1="358.1" y1="245" x2="358.1" y2="261.7" stroke="#000" stroke-width="2" stroke-linecap="butt"/>
<line x1="358.2" y1="280" x2="359.6" y2="513.7" stroke="#000" stroke-width="2" stroke-linecap="butt"/>
<line x1="359.7" y1="528" x2="359.7" y2="536.7" stroke="#000" stroke-width="2" stroke-linecap="butt"/>
<line x1="359.8" y1="553.7" x2="361.1" y2="792.5" stroke="#000" stroke-width="2" stroke-linecap="butt"/>
<line x1="361.2" y1="804" x2="361.3" y2="810.8" stroke="#000" stroke-width="2" stroke-linecap="butt"/>
<line x1="361.3" y1="826" x2="361.9" y2="925.8" stroke="#000" stroke-width="2" stroke-linecap="butt"/>
<line x1="356" y1="7" x2="408.3" y2="7" stroke="#000" stroke-width="2" stroke-linecap="butt"/>
<line x1="419" y1="7" x2="425" y2="7" stroke="#000" stroke-width="2" stroke-linecap="butt"/>
<line x1="434" y1="7" x2="461.3" y2="7" stroke="#000" stroke-width="2" stroke-linecap="butt"/>
<line x1="460.7" y1="6" x2="461.2" y2="86.3" stroke="#000" stroke-width="2.1" stroke-linecap="butt"/>
<line x1="461.2" y1="93.8" x2="461.3" y2="104.8" stroke="#000" stroke-width="2.1" stroke-linecap="butt"/>
<line x1="461.3" y1="111.9" x2="461.6" y2="161" stroke="#000" stroke-width="2.1" stroke-linecap="butt"/>
<line x1="461.9" y1="203" x2="462.2" y2="250" stroke="#000" stroke-width="2.1" stroke-linecap="butt"/>
<line x1="462.2" y1="253" x2="462.3" y2="263" stroke="#000" stroke-width="2.1" stroke-linecap="butt"/>
<line x1="462.3" y1="271.7" x2="463.2" y2="412" stroke="#000" stroke-width="2.1" stroke-linecap="butt"/>
<line x1="463.2" y1="419.6" x2="463.3" y2="428.3" stroke="#000" stroke-width="2.1" stroke-linecap="butt"/>
<line x1="463.3" y1="438" x2="463.7" y2="491" stroke="#000" stroke-width="2.1" stroke-linecap="butt"/>
<line x1="464.1" y1="568" x2="464.5" y2="636" stroke="#000" stroke-width="2.1" stroke-linecap="butt"/>
<line x1="465" y1="705" x2="465.2" y2="747" stroke="#000" stroke-width="2.1" stroke-linecap="butt"/>
<line x1="465.5" y1="797" x2="466" y2="879" stroke="#000" stroke-width="2.1" stroke-linecap="butt"/>
<line x1="467.5" y1="1127" x2="468" y2="1196" stroke="#000" stroke-width="2.1" stroke-linecap="butt"/>
<line x1="468.2" y1="1236" x2="468.6" y2="1299" stroke="#000" stroke-width="2.1" stroke-linecap="butt"/>
<text transform="translate(51.41 79.19) scale(0.9088 1.0123)" x="0" y="0" font-size="28" stroke="#000" stroke-width="0.45">13</text>
<line x1="86" y1="72.5" x2="171.2" y2="88.6" stroke="#000" stroke-width="2" stroke-linecap="butt"/>
<path d="M184 91L168.6 91.6L169.9 84.9Z" fill="#000"/>
<text transform="translate(52.12 224.23) scale(0.9043 0.9400)" x="0" y="0" font-size="28" stroke="#000" stroke-width="0.45">14</text>
<line x1="87.5" y1="216" x2="167.1" y2="227.2" stroke="#000" stroke-width="2" stroke-linecap="butt"/>
<path d="M180 229L164.7 230.3L165.6 223.5Z" fill="#000"/>
<text transform="translate(56.40 364.21) scale(0.9123 0.9750)" x="0" y="0" font-size="28" stroke="#000" stroke-width="0.45">15</text>
<line x1="90" y1="361" x2="173.2" y2="374" stroke="#000" stroke-width="2" stroke-linecap="butt"/>
<path d="M186 376L170.7 377L171.7 370.3Z" fill="#000"/>
<text transform="translate(56.40 504.19) scale(0.9123 1.0272)" x="0" y="0" font-size="28" stroke="#000" stroke-width="0.45">16</text>
<line x1="91" y1="498" x2="184.1" y2="511.2" stroke="#000" stroke-width="2" stroke-linecap="butt"/>
<path d="M197 513L181.7 514.3L182.6 507.5Z" fill="#000"/>
<text transform="translate(60.28 631.21) scale(0.9239 0.9900)" x="0" y="0" font-size="28" stroke="#000" stroke-width="0.45">17</text>
<line x1="95" y1="622" x2="184.6" y2="630.7" stroke="#000" stroke-width="2" stroke-linecap="butt"/>
<path d="M197.5 632L182.2 633.9L182.9 627.2Z" fill="#000"/>
<text transform="translate(59.18 728.53) scale(0.9263 0.9432)" x="0" y="0" font-size="28" stroke="#000" stroke-width="0.45">18</text>
<line x1="92.5" y1="719" x2="223" y2="709.9" stroke="#000" stroke-width="2" stroke-linecap="butt"/>
<path d="M236 709L221.3 713.4L220.8 706.7Z" fill="#000"/>
<text transform="translate(62.34 838.12) scale(0.9487 0.9580)" x="0" y="0" font-size="28" stroke="#000" stroke-width="0.45">19</text>
<line x1="94" y1="824" x2="212.9" y2="778.6" stroke="#000" stroke-width="2" stroke-linecap="butt"/>
<path d="M225 774L212.2 782.5L209.8 776.2Z" fill="#000"/>
<text transform="translate(58.73 946.21) scale(0.9744 0.9778)" x="0" y="0" font-size="28" stroke="#000" stroke-width="0.45">20</text>
<line x1="93.5" y1="934" x2="228.5" y2="862.1" stroke="#000" stroke-width="2" stroke-linecap="butt"/>
<path d="M240 856L228.4 866.1L225.2 860Z" fill="#000"/>
<text transform="translate(654.93 56.44) scale(0.8724 1.0400)" x="0" y="0" font-size="28" stroke="#000" stroke-width="0.45">21</text>
<line x1="649" y1="51" x2="543.2" y2="89.2" stroke="#000" stroke-width="2" stroke-linecap="butt"/>
<path d="M531 93.6L544 85.3L546.3 91.7Z" fill="#000"/>
<text transform="translate(659.13 184.45) scale(0.9690 0.9900)" x="0" y="0" font-size="28" stroke="#000" stroke-width="0.45">22</text>
<line x1="653" y1="180.5" x2="545.1" y2="206.6" stroke="#000" stroke-width="2" stroke-linecap="butt"/>
<path d="M532.5 209.7L546.3 202.9L547.9 209.5Z" fill="#000"/>
<text transform="translate(653.02 304.22) scale(0.9846 0.9630)" x="0" y="0" font-size="28" stroke="#000" stroke-width="0.45">23</text>
<line x1="646" y1="300.5" x2="529.5" y2="335" stroke="#000" stroke-width="2" stroke-linecap="butt"/>
<path d="M517 338.7L530.4 331.2L532.3 337.7Z" fill="#000"/>
<text transform="translate(659.85 389.21) scale(0.9525 0.9778)" x="0" y="0" font-size="28" stroke="#000" stroke-width="0.45">24</text>
<line x1="652.8" y1="383" x2="553.8" y2="402.5" stroke="#000" stroke-width="2" stroke-linecap="butt"/>
<path d="M541 405L555.1 398.8L556.4 405.4Z" fill="#000"/>
<text transform="translate(655.84 530.24) scale(0.9607 0.9284)" x="0" y="0" font-size="28" stroke="#000" stroke-width="0.45">25</text>
<line x1="649" y1="522" x2="546.3" y2="543.4" stroke="#000" stroke-width="2" stroke-linecap="butt"/>
<path d="M533.6 546L547.6 539.6L549 546.3Z" fill="#000"/>
<text transform="translate(655.27 692.35) scale(0.9829 1.0914)" x="0" y="0" font-size="28" stroke="#000" stroke-width="0.45">26</text>
<line x1="649" y1="681" x2="517.6" y2="683.7" stroke="#000" stroke-width="2" stroke-linecap="butt"/>
<path d="M504.6 684L519.5 680.3L519.7 687.1Z" fill="#000"/>
<text transform="translate(657.03 806.21) scale(0.9690 0.9778)" x="0" y="0" font-size="28" stroke="#000" stroke-width="0.45">27</text>
<line x1="651" y1="799" x2="546.9" y2="788.8" stroke="#000" stroke-width="2" stroke-linecap="butt"/>
<path d="M534 787.5L549.3 785.6L548.6 792.4Z" fill="#000"/>
<text transform="translate(654.84 942.19) scale(0.9607 1.0272)" x="0" y="0" font-size="28" stroke="#000" stroke-width="0.45">28</text>
<line x1="649" y1="929" x2="546.4" y2="911.2" stroke="#000" stroke-width="2" stroke-linecap="butt"/>
<path d="M533.6 909L549 908.2L547.8 914.9Z" fill="#000"/>
<text transform="translate(649.83 1047.21) scale(0.9690 0.9778)" x="0" y="0" font-size="28" stroke="#000" stroke-width="0.45">29</text>
<line x1="642" y1="1034.7" x2="493.7" y2="1015.7" stroke="#000" stroke-width="2" stroke-linecap="butt"/>
<path d="M480.8 1014L496.1 1012.5L495.2 1019.3Z" fill="#000"/>
<text transform="translate(651.03 1181.19) scale(1.0237 1.0123)" x="0" y="0" font-size="28" stroke="#000" stroke-width="0.45">30</text>
<line x1="644" y1="1171" x2="493.9" y2="1151.2" stroke="#000" stroke-width="2" stroke-linecap="butt"/>
<path d="M481 1149.5L496.3 1148.1L495.4 1154.8Z" fill="#000"/>
<line x1="644" y1="1171" x2="494" y2="1180.2" stroke="#000" stroke-width="2" stroke-linecap="butt"/>
<path d="M481 1181L495.8 1176.7L496.2 1183.5Z" fill="#000"/>
<text transform="translate(653.22 1257.88) scale(0.9026 1.0469)" x="0" y="0" font-size="28" stroke="#000" stroke-width="0.45">31</text>
<line x1="650" y1="1246.7" x2="508" y2="1238.7" stroke="#000" stroke-width="2" stroke-linecap="butt"/>
<path d="M495 1238L510.2 1235.4L509.8 1242.2Z" fill="#000"/>
<ellipse cx="124" cy="50" rx="1.2" ry="1" fill="#000"/>
<ellipse cx="611.5" cy="810" rx="1" ry="1" fill="#000"/>
<line x1="606.5" y1="1100" x2="606.5" y2="1105" stroke="#000" stroke-width="1.6" stroke-linecap="butt"/>
<ellipse cx="9" cy="422" rx="1.2" ry="1.2" fill="#000"/>
<line x1="427.5" y1="1318.3" x2="430.5" y2="1318.3" stroke="#000" stroke-width="1.6" stroke-linecap="butt"/>
<text transform="translate(88.8 1375.3) scale(0.87 1)" x="0" y="0" font-size="28.3" stroke="#000" stroke-width="0.2" word-spacing="-1.5" textLength="527.9" lengthAdjust="spacing">RING, SERVO COVER RETAINING</text>
<text transform="translate(86.9 1405.4) scale(0.87 1)" x="0" y="0" font-size="28.3" stroke="#000" stroke-width="0.2" word-spacing="-1.5" textLength="582.3" lengthAdjust="spacing">SEAL, “O” RING (2-4, SERVO COVER)</text>
<text transform="translate(88.3 1435.5) scale(0.87 1)" x="0" y="0" font-size="28.3" stroke="#000" stroke-width="0.2" word-spacing="-1.5" textLength="295.7" lengthAdjust="spacing">COVER, 2-4 SERVO</text>
<text transform="translate(89.1 1465.6) scale(0.87 1)" x="0" y="0" font-size="28.3" stroke="#000" stroke-width="0.2" word-spacing="-1.5" textLength="309.9" lengthAdjust="spacing">PISTON, 4TH APPLY</text>
<text transform="translate(89.1 1495.7) scale(0.87 1)" x="0" y="0" font-size="28.3" stroke="#000" stroke-width="0.2" word-spacing="-1.5" textLength="707.6" lengthAdjust="spacing">RING, OIL SEAL OUTER (4TH APPLY PISTON)</text>
<text transform="translate(89.1 1525.8) scale(0.87 1)" x="0" y="0" font-size="28.3" stroke="#000" stroke-width="0.2" word-spacing="-1.5" textLength="470.6" lengthAdjust="spacing">RING, RETAINER (APPLY PIN)</text>
<text transform="translate(86.9 1555.9) scale(0.87 1)" x="0" y="0" font-size="28.3" stroke="#000" stroke-width="0.2" word-spacing="-1.5" textLength="443.3" lengthAdjust="spacing">WASHER, SERVO APPLY PIN</text>
<text transform="translate(87.5 1586) scale(0.87 1)" x="0" y="0" font-size="28.3" stroke="#000" stroke-width="0.2" word-spacing="-1.5" textLength="425.9" lengthAdjust="spacing">SPRING, SERVO APPLY PIN</text>
<text transform="translate(87.5 1616.1) scale(0.87 1)" x="0" y="0" font-size="28.3" stroke="#000" stroke-width="0.2" word-spacing="-1.5" textLength="256.9" lengthAdjust="spacing">SEAL, “O” RING</text>
<text transform="translate(89.7 1646.2) scale(0.87 1)" x="0" y="0" font-size="28.3" stroke="#000" stroke-width="0.2" word-spacing="-1.5" textLength="516.3" lengthAdjust="spacing">HOUSING, SERVO PISTON INNER</text>
<text transform="translate(89.7 1676.3) scale(0.87 1)" x="0" y="0" font-size="28.3" stroke="#000" stroke-width="0.2" word-spacing="-1.5" textLength="702.1" lengthAdjust="spacing">RING, OIL SEAL INNER (2ND APPLY PISTON)</text>
<text transform="translate(89.7 1706.4) scale(0.87 1)" x="0" y="0" font-size="28.3" stroke="#000" stroke-width="0.2" word-spacing="-1.5" textLength="710.2" lengthAdjust="spacing">RING, OIL SEAL OUTER (2ND APPLY PISTON)</text>
<text transform="translate(89.7 1736.5) scale(0.87 1)" x="0" y="0" font-size="28.3" stroke="#000" stroke-width="0.2" word-spacing="-1.5" textLength="314.7" lengthAdjust="spacing">PISTON, 2ND APPLY</text>
<text transform="translate(89.1 1766.6) scale(0.87 1)" x="0" y="0" font-size="28.3" stroke="#000" stroke-width="0.2" word-spacing="-1.5" textLength="404" lengthAdjust="spacing">SPRING, SERVO CUSHION</text>
<text transform="translate(91.1 1796.7) scale(0.87 1)" x="0" y="0" font-size="28.3" stroke="#000" stroke-width="0.2" word-spacing="-1.5" textLength="582.5" lengthAdjust="spacing">RETAINER, SERVO CUSHION SPRING</text>
<text transform="translate(91.1 1826.8) scale(0.87 1)" x="0" y="0" font-size="28.3" stroke="#000" stroke-width="0.2" word-spacing="-1.5" textLength="608.7" lengthAdjust="spacing">RING, RETAINER (2ND APPLY PISTON)</text>
<text transform="translate(91.1 1856.9) scale(0.87 1)" x="0" y="0" font-size="28.3" stroke="#000" stroke-width="0.2" word-spacing="-1.5" textLength="375.5" lengthAdjust="spacing">PIN, 2ND APPLY PISTON</text>
<text transform="translate(89.7 1887) scale(0.87 1)" x="0" y="0" font-size="28.3" stroke="#000" stroke-width="0.2" word-spacing="-1.5" textLength="469.9" lengthAdjust="spacing">SEAL, 2ND APPLY PISTON PIN</text>
<text transform="translate(89.7 1917.1) scale(0.87 1)" x="0" y="0" font-size="28.3" stroke="#000" stroke-width="0.2" word-spacing="-1.5" textLength="396.1" lengthAdjust="spacing">SPRING, SERVO RETURN</text>
</svg>
</body></html>
